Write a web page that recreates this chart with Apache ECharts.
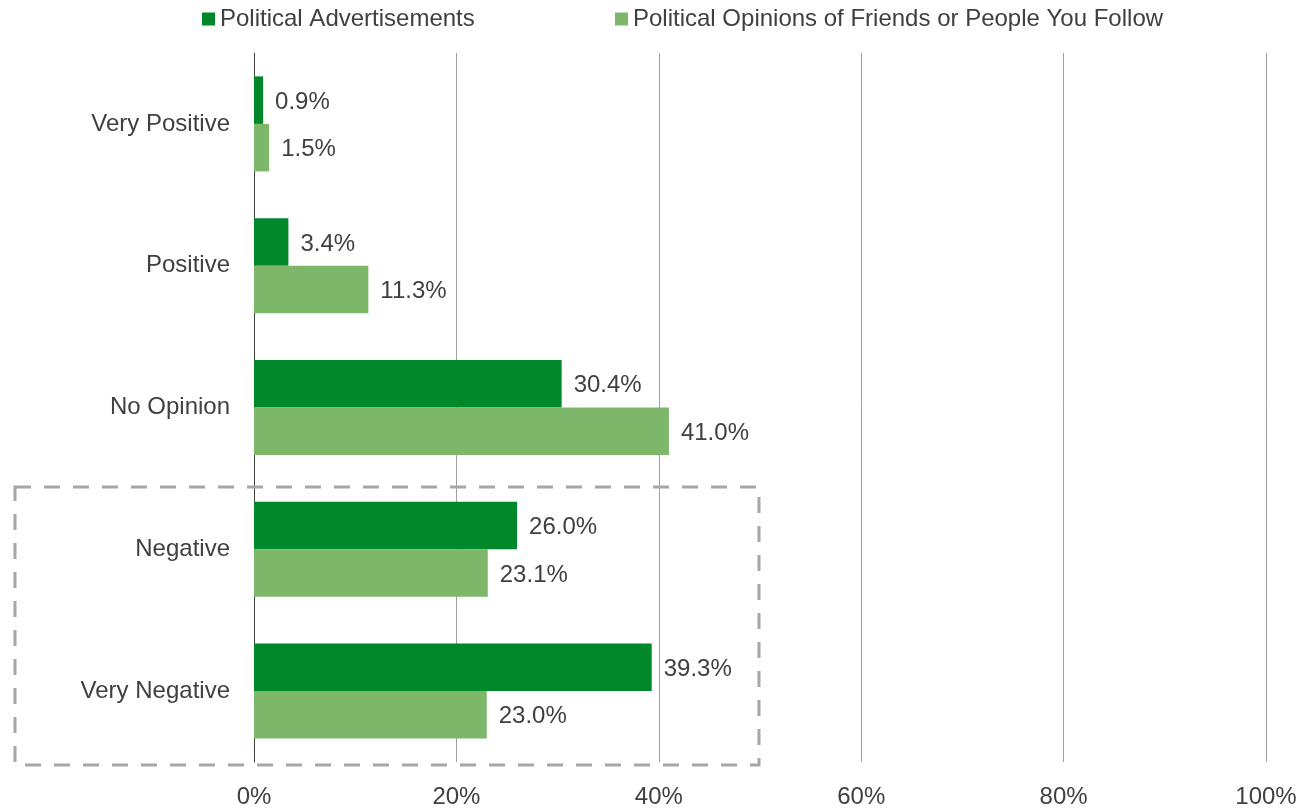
<!DOCTYPE html>
<html>
<head>
<meta charset="utf-8">
<script src="https://cdn.jsdelivr.net/npm/echarts@6/dist/echarts.min.js"></script>
<style>
  html, body { margin: 0; padding: 0; background: #fff; }
  #chart { width: 1306px; height: 809px; }
</style>
</head>
<body>
<div id="chart"></div>
<script>
// Reaction categories, top to bottom
const categories = ['Very Positive', 'Positive', 'No Opinion', 'Negative', 'Very Negative'];
// Share of respondents (%)
const adsValues = [0.9, 3.4, 30.4, 26.0, 39.3];
const friendsValues = [1.5, 11.3, 41.0, 23.1, 23.0];
const seriesNames = ['Political Advertisements', 'Political Opinions of Friends or People You Follow'];
const axisTicks = [0, 20, 40, 60, 80, 100];

const FONT = "'Liberation Sans', Arial, sans-serif";
const TEXT = '#404040';
const DARK = '#00882B';
const LIGHT = '#7DB76A';
const FS = 24;

const chart = echarts.init(document.getElementById('chart'));

const valueLabel = {
  show: true,
  position: 'right',
  distance: 11,
  offset: [1, 2],
  color: TEXT,
  fontFamily: FONT,
  fontSize: FS,
  formatter: p => p.value.toFixed(1) + '%'
};

const legendBase = {
  top: 2,
  icon: 'rect',
  itemWidth: 13,
  itemHeight: 13,
  itemGap: 8,
  textStyle: { color: TEXT, fontFamily: FONT, fontSize: FS },
  selectedMode: false
};

chart.setOption({
  animation: false,
  textStyle: { fontFamily: FONT },
  legend: [
    Object.assign({}, legendBase, { left: 197, data: [seriesNames[0]] }),
    Object.assign({}, legendBase, { left: 610, data: [seriesNames[1]] })
  ],
  grid: { left: 254, right: 40, top: 53, bottom: 46, containLabel: false },
  xAxis: {
    type: 'value',
    min: axisTicks[0],
    max: axisTicks[axisTicks.length - 1],
    interval: axisTicks[1] - axisTicks[0],
    axisLine: { show: false },
    axisTick: { show: false },
    axisLabel: {
      color: TEXT,
      fontFamily: FONT,
      fontSize: FS,
      margin: 23,
      formatter: v => v + '%'
    },
    splitLine: { show: true, lineStyle: { color: '#A0A0A0', width: 1 } }
  },
  yAxis: {
    type: 'category',
    data: categories,
    inverse: true,
    axisLine: { show: true, lineStyle: { color: '#404040', width: 1 } },
    axisTick: { show: false },
    axisLabel: {
      color: TEXT,
      fontFamily: FONT,
      fontSize: FS,
      margin: 24,
      padding: [4, 0, 0, 0]
    }
  },
  series: [
    {
      name: seriesNames[0],
      type: 'bar',
      data: adsValues,
      barGap: '0%',
      barCategoryGap: '33%',
      itemStyle: { color: DARK },
      label: valueLabel
    },
    {
      name: seriesNames[1],
      type: 'bar',
      data: friendsValues,
      itemStyle: { color: LIGHT },
      label: valueLabel
    }
  ],
  graphic: [
    {
      type: 'rect',
      z: 100,
      shape: { x: 15, y: 487, width: 744, height: 278 },
      style: {
        fill: 'none',
        stroke: '#A6A6A6',
        lineWidth: 3,
        lineDash: [16, 13]
      },
      silent: true
    }
  ]
});
</script>
</body>
</html>
